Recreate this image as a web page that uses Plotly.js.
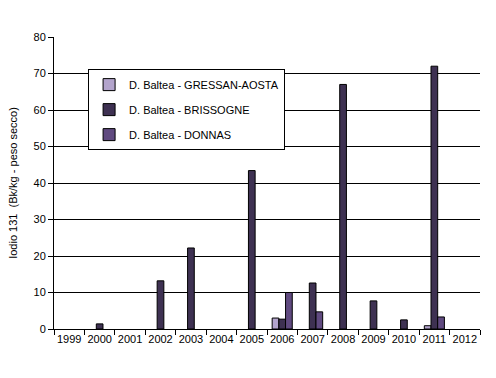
<!DOCTYPE html>
<html><head><meta charset="utf-8">
<script src="https://cdn.plot.ly/plotly-3.0.1.min.js"></script>
<style>html,body{margin:0;padding:0;background:#fff}</style>
</head><body><div id="chart" style="width:496px;height:378px"></div>
<script>
const years = ['1999','2000','2001','2002','2003','2004','2005','2006','2007','2008','2009','2010','2011','2012'];
const gressan = [null,null,null,null,null,null,null,3.0,null,null,null,null,0.9,null];
const brissogne = [null,1.4,null,13.2,22.2,null,43.4,2.7,12.6,67,7.7,2.5,72,null];
const donnas = [null,null,null,null,null,null,null,10,4.7,null,null,null,3.3,null];
const names = ['D. Baltea - GRESSAN-AOSTA','D. Baltea - BRISSOGNE','D. Baltea - DONNAS'];
const colors = ['#b3a4cc','#3e3152','#604a80'];
const series = [gressan, brissogne, donnas];
const traces = series.map((s,i)=>({
  type:'bar', x:years, y:s, name:names[i], legendgroup:'g'+i,
  marker:{color:colors[i], line:{color:'#000', width:1}}
}));
const layout = {
  width:496, height:378,
  margin:{l:54, r:16, t:37, b:49},
  paper_bgcolor:'#fff', plot_bgcolor:'#fff',
  font:{family:'Liberation Sans, Arial, sans-serif', size:11, color:'#000'},
  barmode:'group', bargap:0.34, bargroupgap:0,
  showlegend:true,
  legend:{x:0.08, y:0.89, xanchor:'left', yanchor:'top',
    bgcolor:'#fff', bordercolor:'#000', borderwidth:1,
    traceorder:'grouped', tracegroupgap:6, itemwidth:30,
    font:{size:11, family:'Liberation Sans, Arial, sans-serif'}},
  xaxis:{type:'category', tickson:'boundaries', ticks:'outside', ticklen:5, tickcolor:'#000',
    showline:true, linecolor:'#000', linewidth:1, showgrid:false, zeroline:false,
    tickangle:0, tickfont:{size:11}},
  yaxis:{range:[0,80], dtick:10, ticks:'outside', ticklen:5, tickcolor:'#000',
    showline:true, linecolor:'#000', linewidth:1, showgrid:true, gridcolor:'#000', gridwidth:1,
    zeroline:false, tickfont:{size:11},
    title:{text:'Iodio 131  (Bk/kg - peso secco)', font:{size:11}, standoff:13}}
};
Plotly.newPlot('chart', traces, layout, {displayModeBar:false, staticPlot:true});
</script></body></html>
